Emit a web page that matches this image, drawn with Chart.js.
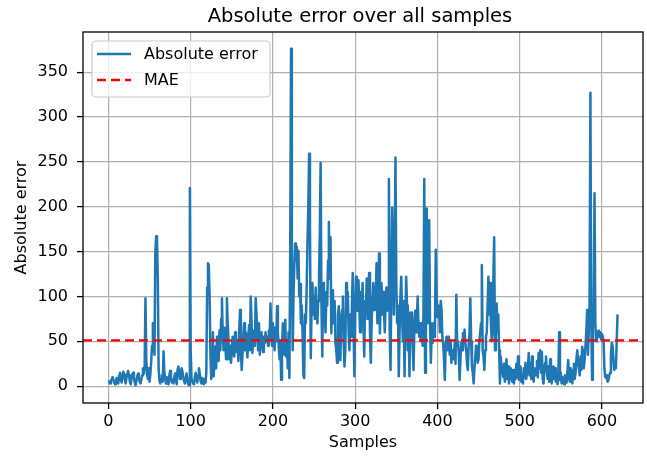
<!DOCTYPE html>
<html>
<head>
  <title>Absolute error over all samples</title>
  <script src="https://cdn.jsdelivr.net/npm/chart.js"></script>
  <style>
    body { margin: 0; background: #fff; }
    #wrap { width: 647px; height: 460px; }
  </style>
</head>
<body>
  <div id="wrap"><canvas id="errChart" width="647" height="460"></canvas></div>

  <script>
    // absolute error per sample
    const absError = [
      4, 5, 3, 6, 8, 10, 7, 4, 2, 5,
      9, 6, 3, 12, 15, 8, 4, 11, 16, 13,
      7, 3, 10, 14, 17, 12, 5, 2, 8, 13,
      15, 9, 4, 1, 6, 11, 14, 10, 5, 3,
      8, 12, 20, 14, 22, 98, 30, 12, 8, 20,
      5, 14, 28, 45, 70, 52, 35, 150, 167, 165,
      120, 20, 6, 3, 8, 12, 5, 39, 15, 8,
      3, 10, 6, 2, 12, 17, 9, 4, 7, 3,
      10, 14, 6, 2, 18, 22, 15, 8, 12, 20,
      16, 10, 5, 3, 9, 14, 7, 2, 1, 221,
      40, 8, 5, 3, 2, 10, 15, 8, 4, 12,
      20, 14, 6, 3, 9, 5, 2, 8, 4, 15,
      110, 137, 135, 100, 35, 8, 15, 60, 11, 30,
      44, 20, 55, 38, 28, 62, 40, 75, 98, 55,
      40, 65, 48, 30, 98, 70, 50, 30, 45, 26,
      38, 55, 42, 33, 60, 45, 38, 50, 28, 62,
      85, 40, 18, 35, 55, 70, 40, 60, 45, 32,
      55, 68, 40, 100, 72, 37, 50, 62, 45, 98,
      80, 55, 40, 70, 35, 52, 60, 45, 38, 55,
      48, 60, 50, 55, 45, 62, 52, 92, 60, 45,
      70, 55, 40, 65, 50, 89, 60, 45, 30, 50,
      7, 40, 70, 55, 35, 74, 33, 50, 20, 60,
      9, 150, 376, 140, 40, 100, 135, 159, 140, 155,
      120, 151, 100, 114, 70, 90, 60, 12, 9, 80,
      70, 110, 160, 200, 259, 180, 31, 90, 115, 80,
      100, 75, 110, 85, 70, 95, 120, 170, 249, 90,
      33, 115, 100, 75, 60, 105, 90, 140, 183, 120,
      166, 59, 107, 89, 70, 95, 48, 40, 26, 80,
      89, 60, 29, 75, 85, 100, 50, 22, 40, 115,
      100, 105, 60, 40, 80, 55, 90, 126, 70, 11,
      80, 122, 115, 84, 118, 90, 60, 105, 80, 115,
      70, 33, 95, 84, 120, 75, 110, 126, 60, 26,
      70, 96, 115, 85, 110, 100, 137, 70, 90, 148,
      59, 100, 115, 80, 105, 85, 60, 95, 110, 84,
      100, 231, 60, 18, 120, 199, 140, 80, 150, 255,
      115, 70, 90, 11, 60, 100, 122, 80, 50, 95,
      11, 70, 122, 90, 40, 60, 11, 82, 55, 82,
      40, 18, 70, 84, 60, 75, 100, 65, 55, 70,
      50, 60, 45, 80, 231, 15, 100, 198, 70, 120,
      185, 70, 26, 60, 48, 70, 55, 65, 152, 100,
      77, 90, 85, 60, 95, 85, 55, 48, 30, 7,
      45, 55, 40, 55, 48, 35, 50, 26, 40, 33,
      30, 48, 25, 102, 45, 50, 35, 7, 30, 48,
      40, 59, 50, 63, 48, 40, 25, 18, 45, 60,
      98, 50, 22, 15, 3, 20, 33, 45, 40, 26,
      30, 50, 60, 70, 135, 40, 33, 18, 40, 55,
      60, 90, 122, 80, 115, 70, 50, 60, 120, 166,
      40, 70, 92, 60, 80, 40, 3, 33, 20, 18,
      10, 25, 5, 18, 30, 8, 22, 3, 15, 20,
      10, 5, 18, 3, 12, 8, 25, 10, 33, 7,
      15, 22, 5, 12, 3, 20, 10, 26, 8, 15,
      20, 37, 12, 25, 8, 33, 15, 5, 20, 12,
      18, 28, 10, 37, 20, 40, 15, 38, 8, 3,
      20, 26, 33, 15, 8, 22, 5, 30, 18, 3,
      12, 22, 8, 20, 5, 15, 2, 10, 60, 7,
      15, 3, 10, 6, 2, 12, 8, 4, 15, 29,
      10, 5, 20, 12, 3, 18, 25, 8, 15, 30,
      40, 28, 20, 12, 33, 18, 44, 38, 20, 30,
      45, 60, 85, 35, 60, 90, 327, 80, 7, 65,
      85, 215, 70, 50, 60, 58, 62, 55, 60, 52,
      58, 56, 50, 20, 10, 12, 8, 5, 7, 12,
      15, 35, 48, 45, 30, 18, 22, 20, 50, 80
    ];
    const maeValue = 51;
    const xTicks = [0, 100, 200, 300, 400, 500, 600];
    const yTicks = [0, 50, 100, 150, 200, 250, 300, 350];
    const legendLabels = ['Absolute error', 'MAE'];

    // matplotlib style 5% margins
    const lastIdx = absError.length - 1;
    const maxErr = Math.max(...absError);
    const xMin = -0.05 * lastIdx, xMax = lastIdx * 1.05;
    const yMin = -0.05 * maxErr, yMax = maxErr * 1.05;

    const BLUE = '#1f77b4';
    const RED = '#ff0000';
    const FONT = "'DejaVu Sans', sans-serif";
    Chart.defaults.font.family = FONT;
    Chart.defaults.color = '#000';

    const decor = {
      id: 'decor',
      afterDraw(chart) {
        const ctx = chart.ctx;
        const a = chart.chartArea;
        ctx.save();
        // frame
        ctx.strokeStyle = '#000';
        ctx.lineWidth = 1.3;
        ctx.strokeRect(a.left, a.top, a.right - a.left, a.bottom - a.top);
        // title
        ctx.fillStyle = '#000';
        ctx.font = '19.5px ' + FONT;
        ctx.textAlign = 'center';
        ctx.textBaseline = 'alphabetic';
        ctx.fillText('Absolute error over all samples', (a.left + a.right) / 2 - 3, a.top - 10);
        // legend box
        const bx = a.left + 9, by = a.top + 9, bw = 178, bh = 56;
        ctx.beginPath();
        ctx.roundRect(bx, by, bw, bh, 4);
        ctx.fillStyle = 'rgba(255,255,255,0.8)';
        ctx.fill();
        ctx.strokeStyle = '#cccccc';
        ctx.lineWidth = 1.2;
        ctx.stroke();
        const rows = [
          { y: by + 13, color: BLUE, dash: [] },
          { y: by + 39, color: RED, dash: [9, 5] }
        ];
        rows.forEach((r, i) => {
          ctx.beginPath();
          ctx.setLineDash(r.dash);
          ctx.strokeStyle = r.color;
          ctx.lineWidth = 2.4;
          ctx.moveTo(bx + 5, r.y);
          ctx.lineTo(bx + 39, r.y);
          ctx.stroke();
          ctx.setLineDash([]);
          ctx.fillStyle = '#000';
          ctx.font = '16px ' + FONT;
          ctx.textAlign = 'left';
          ctx.textBaseline = 'middle';
          ctx.fillText(legendLabels[i], bx + 52, r.y + 1);
        });
        ctx.restore();
      }
    };

    new Chart(document.getElementById('errChart'), {
      type: 'line',
      data: {
        datasets: [
          {
            label: legendLabels[1],
            data: [{ x: xMin, y: maeValue }, { x: xMax, y: maeValue }],
            borderColor: RED,
            borderWidth: 2.2,
            borderDash: [9, 5],
            pointRadius: 0,
            order: 0
          },
          {
            label: legendLabels[0],
            data: absError.map((v, i) => ({ x: i, y: v })),
            borderColor: BLUE,
            borderWidth: 2.5,
            borderJoinStyle: 'round',
            pointRadius: 0,
            tension: 0,
            order: 1
          }
        ]
      },
      options: {
        responsive: false,
        animation: false,
        layout: { padding: { top: 32, right: 4, bottom: 0, left: 0 } },
        plugins: { legend: { display: false }, tooltip: { enabled: false } },
        scales: {
          x: {
            type: 'linear', min: xMin, max: xMax,
            afterBuildTicks: s => { s.ticks = xTicks.map(v => ({ value: v })); },
            afterFit: s => { s.height = 57; },
            ticks: { padding: 3, font: { size: 16 }, maxRotation: 0, autoSkip: false },
            grid: { color: '#b0b0b0', lineWidth: 1.2, tickColor: '#000', tickLength: 6, tickWidth: 1.3 },
            border: { display: false },
            title: { display: true, text: 'Samples', font: { size: 16 }, padding: { top: 0, bottom: 8 } }
          },
          y: {
            type: 'linear', min: yMin, max: yMax,
            afterBuildTicks: s => { s.ticks = yTicks.map(v => ({ value: v })); },
            afterFit: s => { s.width = 83; },
            ticks: { padding: 9, font: { size: 16 } },
            grid: { color: '#b0b0b0', lineWidth: 1.2, tickColor: '#000', tickLength: 6, tickWidth: 1.3 },
            border: { display: false },
            title: { display: true, text: 'Absolute error', font: { size: 16 }, padding: { top: 12, bottom: 0 } }
          }
        }
      },
      plugins: [decor]
    });
  </script>
</body>
</html>
